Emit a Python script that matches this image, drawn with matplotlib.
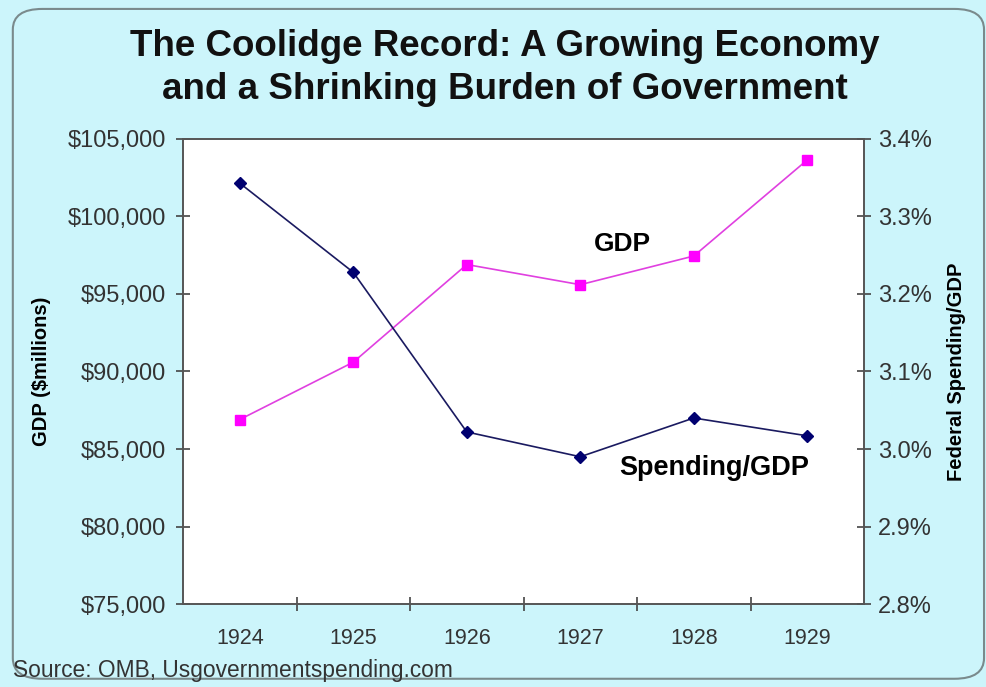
import matplotlib
matplotlib.use("Agg")
import matplotlib.pyplot as plt
from matplotlib.patches import FancyBboxPatch
from matplotlib.ticker import FuncFormatter, FixedLocator

# data
years = ["1924", "1925", "1926", "1927", "1928", "1929"]
gdp = [86900, 90600, 96900, 95600, 97450, 103650]          # $ millions
spending_pct = [3.343, 3.228, 3.022, 2.990, 3.040, 3.017]  # federal spending / GDP, %

bg = "#ccf5fb"
plt.rcParams["font.family"] = ["Liberation Sans", "DejaVu Sans"]

fig = plt.figure(figsize=(9.86, 6.87), dpi=100, facecolor=bg)

# rounded frame around the whole chart
frame = FancyBboxPatch((0.013, 0.012), 0.985, 0.975,
                       boxstyle="round,pad=0,rounding_size=0.03",
                       transform=fig.transFigure, facecolor=bg,
                       edgecolor="#7a8a8c", linewidth=1.5, zorder=-10)
fig.patches.append(frame)

ax = fig.add_axes([0.1856, 0.1208, 0.6907, 0.6769])
ax.set_facecolor("white")
x = list(range(len(years)))

ax.plot(x, gdp, color="#e040e0", linewidth=1.2, marker="s", markersize=7,
        markerfacecolor="#ff00ff", markeredgecolor="#ff00ff", zorder=3)
ax.set_ylim(75000, 105000)
ax.set_yticks(range(75000, 105001, 5000))
ax.yaxis.set_major_formatter(FuncFormatter(lambda v, p: f"${v:,.0f}"))
ax.set_xlim(-0.5, 5.5)
ax.set_xticks(x)
ax.set_xticklabels(years)
ax.xaxis.set_minor_locator(FixedLocator([i + 0.5 for i in range(len(years) - 1)]))
ax.tick_params(axis="x", which="major", length=0, pad=17, labelsize=15.5, labelcolor="#333333")
ax.tick_params(axis="x", which="minor", length=10, direction="inout", width=1.2, color="#444444")
ax.tick_params(axis="y", length=10, direction="inout", width=1.2, color="#444444",
               labelsize=17, labelcolor="#333333", pad=7)
ax.set_ylabel("GDP ($millions)", fontsize=14.5, fontweight="bold", labelpad=12)

ax2 = ax.twinx()
ax2.plot(x, spending_pct, color="#1a1a60", linewidth=1.2, marker="D", markersize=6,
         markerfacecolor="#000070", markeredgecolor="#000070", zorder=3)
ax2.set_ylim(2.8, 3.4)
ax2.set_yticks([2.8, 2.9, 3.0, 3.1, 3.2, 3.3, 3.4])
ax2.yaxis.set_major_formatter(FuncFormatter(lambda v, p: f"{v:.1f}%"))
ax2.tick_params(axis="y", length=10, direction="inout", width=1.2, color="#444444",
                labelsize=17, labelcolor="#333333", pad=5)
ax2.set_ylabel("Federal Spending/GDP", fontsize=14.5, fontweight="bold", labelpad=11)

for a in (ax, ax2):
    for side in ("left", "right", "bottom", "top"):
        a.spines[side].set_color("#555555")
        a.spines[side].set_linewidth(1.2)

ax.text(3.37, 98200, "GDP", fontsize=19, fontweight="bold", ha="center", va="center")
ax.text(4.18, 83800, "Spending/GDP", fontsize=19.5, fontweight="bold", ha="center", va="center")

fig.text(0.512, 0.932, "The Coolidge Record: A Growing Economy",
         fontsize=26.5, fontweight="bold", ha="center", va="center", color="#111111")
fig.text(0.512, 0.870, "and a Shrinking Burden of Government",
         fontsize=26.5, fontweight="bold", ha="center", va="center", color="#111111")
fig.text(0.013, 0.024, "Source: OMB, Usgovernmentspending.com",
         fontsize=16.4, ha="left", va="center", color="#333333")

fig.savefig("out.png", dpi=100, facecolor=bg)
